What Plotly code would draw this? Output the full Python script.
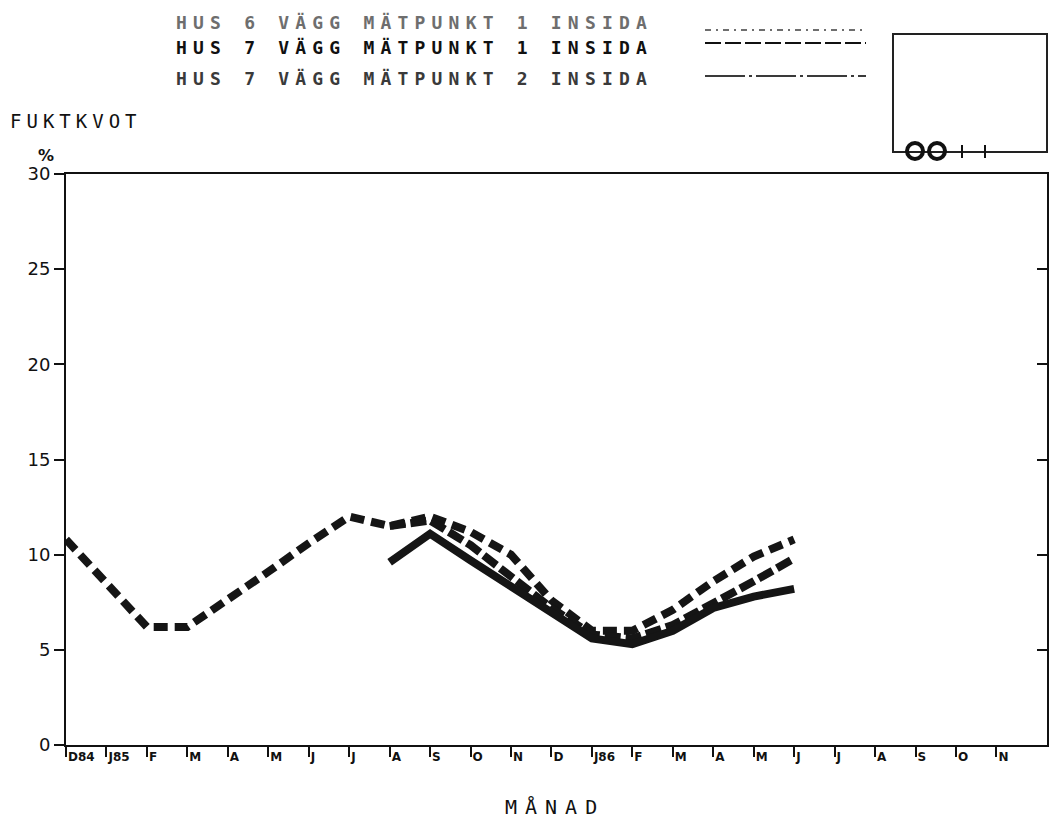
import plotly.graph_objects as go

months = ["D84", "J85", "F", "M", "A", "M", "J", "J", "A", "S", "O", "N",
          "D", "J86", "F", "M", "A", "M", "J", "J", "A", "S", "O", "N"]
x_idx = list(range(len(months)))

hus6_mp1 = [10.8, 8.5, 6.2, 6.2, 7.6, 9.1, 10.6, 12.0, 11.5, 12.0, 11.2, 10.0,
            7.6, 6.0, 6.0, 7.1, 8.6, 9.9, 10.8]
hus7_mp1 = [11.5, 11.8, 10.5, 8.8, 7.2, 5.8, 5.6, 6.3, 7.4, 8.6, 9.8]
hus7_mp2 = [9.6, 11.1, 9.7, 8.3, 6.9, 5.6, 5.3, 6.0, 7.2, 7.8, 8.2]
start_hus7 = 8

legend_labels = ["HUS 6 VÄGG MÄTPUNKT 1 INSIDA",
                 "HUS 7 VÄGG MÄTPUNKT 1 INSIDA",
                 "HUS 7 VÄGG MÄTPUNKT 2 INSIDA"]
y_ticks = [0, 5, 10, 15, 20, 25, 30]

OFF = 8  # page body margin
W, H = 1057 - OFF, 819 - OFF
# plot area in reference page pixels
AX_L, AX_R, AX_T, AX_B = 66, 1047, 174, 745
L, T = AX_L - OFF, AX_T - OFF
R, B = W - (AX_R - OFF), H - (AX_B - OFF)
PW, PH = W - L - R, H - T - B

def px(x):
    return (x - OFF - L) / PW

def py(y):
    return (H - B - (y - OFF)) / PH

fig = go.Figure()
fig.add_trace(go.Scatter(x=x_idx[:len(hus6_mp1)], y=hus6_mp1, mode="lines",
                         line=dict(color="#151515", width=8, dash="14px,7px"),
                         showlegend=False))
fig.add_trace(go.Scatter(x=x_idx[start_hus7:start_hus7 + len(hus7_mp1)], y=hus7_mp1,
                         mode="lines",
                         line=dict(color="#151515", width=8, dash="16px,5px"),
                         showlegend=False))
fig.add_trace(go.Scatter(x=x_idx[start_hus7:start_hus7 + len(hus7_mp2)], y=hus7_mp2,
                         mode="lines",
                         line=dict(color="#151515", width=8),
                         showlegend=False))
# empty trace so the right-hand axis (inside ticks) is drawn
fig.add_trace(go.Scatter(x=[], y=[], yaxis="y2", mode="lines",
                         showlegend=False, hoverinfo="skip"))

shapes = []
annotations = []
legend_y = [23, 47, 78]
sample_y = [30, 43, 76]
legend_colors = ["#6e6e6e", "#111111", "#3a3a3a"]
legend_dash = ["6px,5px,2px,5px", "16px,4px", "40px,4px,3px,4px"]
for lab, yy, sy, col, dsh in zip(legend_labels, legend_y, sample_y, legend_colors, legend_dash):
    annotations.append(dict(
        x=px(174), y=py(yy), xref="paper", yref="paper", xanchor="left", yanchor="middle",
        text='<span style="letter-spacing:6.2px"><b>' + lab + '</b></span>', showarrow=False,
        font=dict(family="DejaVu Sans Mono", size=18, color=col)))
    shapes.append(dict(type="line", xref="paper", yref="paper",
                       x0=px(705), x1=px(866), y0=py(sy), y1=py(sy),
                       line=dict(color=col, width=2, dash=dsh)))

# small key box at top right
shapes.append(dict(type="rect", xref="paper", yref="paper",
                   x0=px(893), x1=px(1047), y0=py(152), y1=py(34),
                   line=dict(color="#222", width=2)))
for cx in [915, 937]:
    shapes.append(dict(type="circle", xref="paper", yref="paper",
                       x0=px(cx - 8), x1=px(cx + 8), y0=py(159), y1=py(143),
                       line=dict(color="#111", width=4)))
for tx in [962, 985]:
    shapes.append(dict(type="line", xref="paper", yref="paper",
                       x0=px(tx), x1=px(tx), y0=py(158), y1=py(145),
                       line=dict(color="#111", width=2)))

annotations.append(dict(x=px(8), y=py(121), xref="paper", yref="paper",
                        xanchor="left", yanchor="middle",
                        text='<span style="letter-spacing:5px">FUKTKVOT</span>',
                        showarrow=False,
                        font=dict(family="DejaVu Sans Mono", size=19, color="#111")))
annotations.append(dict(x=px(46), y=py(156), xref="paper", yref="paper",
                        xanchor="center", yanchor="middle", text="<b>%</b>",
                        showarrow=False,
                        font=dict(family="DejaVu Sans", size=16, color="#111")))
annotations.append(dict(x=px(555), y=py(807), xref="paper", yref="paper",
                        xanchor="center", yanchor="middle",
                        text='<span style="letter-spacing:8px">MÅNAD</span>',
                        showarrow=False,
                        font=dict(family="DejaVu Sans Mono", size=20, color="#111")))

fig.update_layout(
    width=W, height=H,
    margin=dict(l=L, r=R, t=T, b=B, autoexpand=False),
    paper_bgcolor="white", plot_bgcolor="white",
    shapes=shapes, annotations=annotations,
    font=dict(family="DejaVu Sans", color="#111"),
    xaxis=dict(range=[0, 24.25], tickvals=x_idx,
               ticktext=["<b>" + m + "</b>" for m in months],
               ticks="outside", ticklen=10, tickwidth=2, tickcolor="#111",
               ticklabelposition="outside right",
               tickfont=dict(family="DejaVu Sans", size=12, color="#111"),
               showline=True, linecolor="#111", linewidth=2, mirror=True,
               showgrid=False, zeroline=False, automargin=False),
    yaxis=dict(range=[0, 30], tickvals=y_ticks,
               ticks="outside", ticklen=10, tickwidth=2, tickcolor="#111",
               tickfont=dict(family="DejaVu Sans", size=18, color="#111"),
               showline=True, linecolor="#111", linewidth=2, mirror=True,
               showgrid=False, zeroline=False, automargin=False),
    yaxis2=dict(range=[0, 30], tickvals=y_ticks, overlaying="y", side="right",
                ticks="inside", ticklen=10, tickwidth=2, tickcolor="#111",
                showticklabels=False, showline=False, showgrid=False,
                zeroline=False, automargin=False),
)

fig.write_html("out.html")
